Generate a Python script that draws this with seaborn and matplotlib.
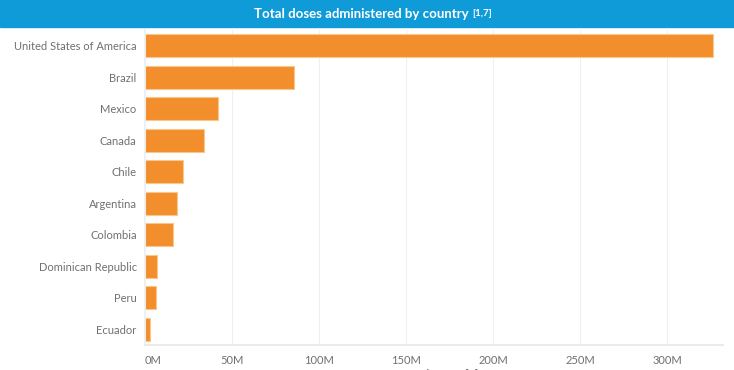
import pandas as pd
import seaborn as sns
import matplotlib.pyplot as plt
from matplotlib.ticker import FuncFormatter

countries = ["United States of America", "Brazil", "Mexico", "Canada", "Chile",
             "Argentina", "Colombia", "Dominican Republic", "Peru", "Ecuador"]
doses_m = [326.0, 85.6, 41.8, 33.9, 21.7, 18.6, 15.9, 6.7, 6.1, 3.1]

df = pd.DataFrame({"Country": countries, "Doses": [d * 1e6 for d in doses_m]})

sns.set_theme(style="white")
plt.rcParams["font.family"] = ["Lato", "DejaVu Sans"]

fig = plt.figure(figsize=(7.34, 3.70), dpi=100)
ax = fig.add_axes([145 / 734, 25 / 370, 578 / 734, 315 / 370])

sns.barplot(data=df, x="Doses", y="Country", color="#F28E2B", saturation=1,
            width=0.74, edgecolor="#F9C68C", linewidth=0.8, ax=ax)

ax.set_xlim(0, 332e6)
ax.set_ylim(9.5, -0.5)
ax.set_xticks([0, 50e6, 100e6, 150e6, 200e6, 250e6, 300e6])
ax.xaxis.set_major_formatter(FuncFormatter(lambda v, p: f"{v / 1e6:.0f}M"))
ax.grid(axis="x", color="#EFEFEF", linewidth=0.8)
ax.set_axisbelow(True)
for s in ["top", "right"]:
    ax.spines[s].set_visible(False)
ax.spines["left"].set_color("#EFEFEF")
ax.spines["bottom"].set_color("#E8E8E8")
ax.tick_params(axis="both", length=0, labelsize=8, labelcolor="#707070")
ax.tick_params(axis="x", pad=7)
ax.tick_params(axis="y", pad=6)
ax.set_xlabel("")
ax.set_ylabel("")
ax.get_xticklabels()[0].set_ha("left")

# header band
fig.patches.append(plt.Rectangle((0, 1 - 27 / 370), 1, 27 / 370, transform=fig.transFigure,
                                 color="#0F9BD7", zorder=0))
fig.text(469 / 734, 1 - 13.5 / 370, "Total doses administered by country", color="white",
         fontsize=9.5, fontweight="bold", ha="right", va="center")
fig.text(472 / 734, 1 - 14 / 370, "[1,7]", color="white", fontsize=7,
         fontweight="bold", ha="left", va="center")

# clipped axis title at the bottom
fig.text(0.61, -4 / 370, "Total Doses [1] \u2630", color="#555555", fontsize=8,
         ha="center", va="center")

fig.savefig("out.png", dpi=100)
